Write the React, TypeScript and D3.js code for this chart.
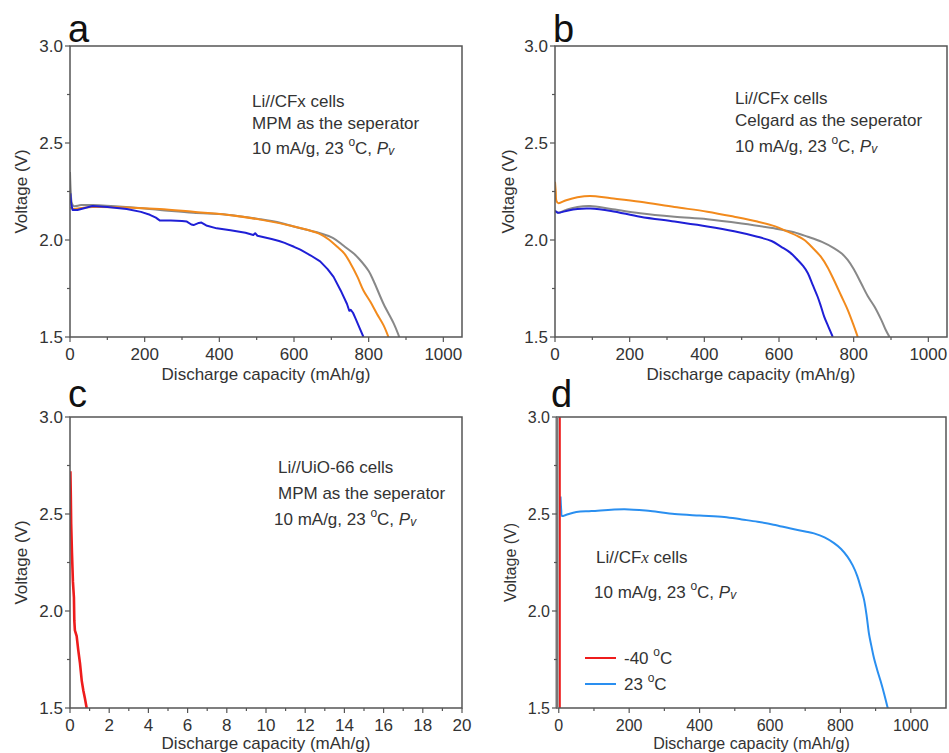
import React from "react";
import * as d3 from "d3";

type Pt = [number, number];

// ---- Data (capacity mAh/g, voltage V) ----
const aGray: Pt[] = [[0,2.35],[2,2.25],[5,2.19],[10,2.175],[30,2.18],[62,2.18],[150,2.17],[241,2.155],[330,2.14],[420,2.13],[509,2.107],[560,2.09],[599,2.07],[640,2.05],[670,2.035],[705,2.01],[733,1.97],[760,1.93],[777,1.897],[800,1.84],[813,1.79],[840,1.67],[867,1.57],[882,1.5]];
const aOrange: Pt[] = [[2,2.17],[8,2.16],[30,2.165],[60,2.17],[150,2.168],[240,2.16],[330,2.145],[420,2.13],[510,2.105],[600,2.07],[640,2.05],[670,2.03],[695,2.0],[715,1.966],[735,1.93],[751,1.88],[770,1.81],[786,1.74],[805,1.68],[822,1.62],[840,1.56],[853,1.5]];
const aBlue: Pt[] = [[1,2.24],[3,2.19],[7,2.155],[20,2.155],[40,2.165],[60,2.175],[100,2.17],[152,2.16],[190,2.145],[214,2.13],[230,2.115],[241,2.1],[270,2.1],[300,2.098],[313,2.095],[325,2.08],[331,2.077],[345,2.088],[352,2.09],[365,2.075],[393,2.06],[430,2.05],[470,2.037],[491,2.026],[496,2.035],[502,2.022],[540,2.005],[560,1.995],[575,1.985],[581,1.98],[600,1.965],[617,1.95],[645,1.92],[670,1.89],[690,1.85],[706,1.81],[725,1.74],[742,1.67],[748,1.635],[752,1.64],[758,1.625],[765,1.595],[775,1.55],[786,1.5]];

const bOrange: Pt[] = [[0,2.3],[2,2.25],[4,2.2],[9,2.19],[30,2.205],[60,2.22],[94,2.227],[150,2.215],[228,2.197],[320,2.17],[408,2.146],[480,2.12],[542,2.095],[590,2.07],[623,2.043],[650,2.02],[668,2.0],[690,1.96],[712,1.914],[730,1.86],[748,1.79],[766,1.715],[784,1.64],[798,1.57],[811,1.5]];
const bGray: Pt[] = [[0,2.15],[4,2.145],[8,2.14],[30,2.155],[60,2.17],[94,2.175],[150,2.16],[228,2.138],[320,2.12],[408,2.107],[500,2.085],[587,2.06],[640,2.04],[677,2.017],[715,1.99],[748,1.957],[768,1.93],[784,1.897],[800,1.85],[820,1.777],[838,1.71],[856,1.656],[874,1.588],[885,1.54],[896,1.5]];
const bBlue: Pt[] = [[0,2.15],[4,2.145],[8,2.14],[30,2.15],[60,2.16],[94,2.162],[150,2.15],[228,2.12],[320,2.095],[408,2.07],[480,2.045],[542,2.017],[580,1.995],[605,1.966],[630,1.935],[650,1.897],[665,1.865],[677,1.83],[690,1.77],[703,1.71],[712,1.66],[721,1.605],[733,1.55],[744,1.5]];

const cRed: Pt[] = [[0.02,2.72],[0.04,2.6],[0.06,2.45],[0.1,2.3],[0.15,2.15],[0.2,2.07],[0.22,1.95],[0.25,1.9],[0.34,1.87],[0.42,1.8],[0.51,1.73],[0.6,1.64],[0.68,1.59],[0.76,1.55],[0.85,1.5]];

const dRed: Pt[] = [[3,3.05],[3,1.45]];
const dBlue: Pt[] = [[5,2.59],[7,2.52],[9,2.49],[20,2.495],[50,2.51],[93,2.515],[187,2.525],[260,2.515],[329,2.5],[400,2.492],[470,2.485],[520,2.472],[565,2.46],[610,2.445],[659,2.425],[700,2.41],[725,2.4],[755,2.38],[782,2.35],[802,2.32],[820,2.28],[835,2.235],[848,2.18],[858,2.12],[867,2.06],[875,1.97],[881,1.885],[888,1.82],[895,1.76],[904,1.7],[914,1.64],[924,1.575],[933,1.51],[936,1.49]];

const capTicks = [0, 200, 400, 600, 800, 1000];
const capMinor = [100, 300, 500, 700, 900];
const smallTicks = [0, 2, 4, 6, 8, 10, 12, 14, 16, 18, 20];
const smallMinor = [1, 3, 5, 7, 9, 11, 13, 15, 17, 19];
const voltTicks = [1.5, 2.0, 2.5, 3.0];
const voltMinor = [1.75, 2.25, 2.75];

const FONT = "'Liberation Sans', Arial, sans-serif";
const TXT = "#333";
const AXIS = "#555";
const AFS = 17;

const BLUE = "#1f1fd6";
const ORANGE = "#f28a1c";
const GRAY = "#888888";
const RED = "#ee1c1c";
const LBLUE = "#2a8ff0";

type Series = { data: Pt[]; color: string; width?: number; smooth?: boolean };

type PanelProps = {
  id: string;
  letter: string;
  left: number; top: number; right: number; bottom: number;
  xDomain: [number, number];
  xTicks: number[]; xMinor: number[];
  series: Series[];
  yTitleX: number;
  xTitleDy: number;
  fs: number;
  thickLeft?: boolean;
  letterX: number; letterY: number;
  children?: React.ReactNode;
};

function Panel(p: PanelProps) {
  const x = d3.scaleLinear().domain(p.xDomain).range([p.left, p.right]);
  const y = d3.scaleLinear().domain([1.5, 3.0]).range([p.bottom, p.top]);
  const smoothLine = d3.line<Pt>().x(d => x(d[0])).y(d => y(d[1])).curve(d3.curveCatmullRom.alpha(0.5));
  const rawLine = d3.line<Pt>().x(d => x(d[0])).y(d => y(d[1]));
  const cx = (p.left + p.right) / 2;
  const cy = (p.top + p.bottom) / 2;
  return (
    <g>
      <defs>
        <clipPath id={"clip" + p.id}>
          <rect x={p.left} y={p.top} width={p.right - p.left} height={p.bottom - p.top} />
        </clipPath>
      </defs>
      <text x={p.letterX} y={p.letterY} fontSize={38} fontFamily={FONT} fill="#111">{p.letter}</text>
      <g clipPath={`url(#clip${p.id})`}>
        {p.series.map((s, i) => (
          <path key={i} d={(s.smooth === false ? rawLine : smoothLine)(s.data) || ""} fill="none" stroke={s.color} strokeWidth={s.width ?? 2} strokeLinejoin="round" />
        ))}
      </g>
      <rect x={p.left} y={p.top} width={p.right - p.left} height={p.bottom - p.top} fill="none" stroke={AXIS} strokeWidth={1.5} />
      {p.thickLeft && <line x1={p.left} x2={p.left} y1={p.top} y2={p.bottom} stroke="#777" strokeWidth={3} />}
      {p.xTicks.map(t => (
        <g key={"xt" + t}>
          <line x1={x(t)} x2={x(t)} y1={p.bottom} y2={p.bottom + 5} stroke={AXIS} strokeWidth={1.2} />
          <text x={x(t)} y={p.bottom + 23} textAnchor="middle" fontSize={p.fs} fontFamily={FONT} fill={TXT}>{t}</text>
        </g>
      ))}
      {p.xMinor.map(t => (
        <line key={"xm" + t} x1={x(t)} x2={x(t)} y1={p.bottom} y2={p.bottom + 3} stroke={AXIS} strokeWidth={1.2} />
      ))}
      {voltTicks.map(t => (
        <g key={"yt" + t}>
          <line x1={p.left - 5} x2={p.left} y1={y(t)} y2={y(t)} stroke={AXIS} strokeWidth={1.2} />
          <text x={p.left - 7} y={y(t)} dy="0.36em" textAnchor="end" fontSize={p.fs} fontFamily={FONT} fill={TXT}>{t.toFixed(1)}</text>
        </g>
      ))}
      {voltMinor.map(t => (
        <line key={"ym" + t} x1={p.left - 3} x2={p.left} y1={y(t)} y2={y(t)} stroke={AXIS} strokeWidth={1.2} />
      ))}
      <text x={cx} y={p.bottom + p.xTitleDy} textAnchor="middle" fontSize={p.fs} fontFamily={FONT} fill={TXT}>Discharge capacity (mAh/g)</text>
      <text transform={`translate(${p.yTitleX},${cy}) rotate(-90)`} textAnchor="middle" dy="0.35em" fontSize={p.fs} fontFamily={FONT} fill={TXT}>Voltage (V)</text>
      {p.children}
    </g>
  );
}

function Cond({ x, y }: { x: number; y: number }) {
  return (
    <text x={x} y={y} fontSize={AFS} fontFamily={FONT} fill={TXT}>
      10 mA/g, 23 <tspan fontSize={12} dy={-8}>o</tspan><tspan dy={8}>C, </tspan>
      <tspan fontStyle="italic">P</tspan><tspan fontStyle="italic" fontSize={12} dy={1}>v</tspan>
    </text>
  );
}

function Deg({ x, y, label }: { x: number; y: number; label: string }) {
  return (
    <text x={x} y={y} fontSize={AFS} fontFamily={FONT} fill={TXT}>
      {label} <tspan fontSize={12} dy={-8}>o</tspan><tspan dy={8}>C</tspan>
    </text>
  );
}

export default function App() {
  return (
    <svg width={949} height={753} style={{ position: "absolute", left: 0, top: 0, background: "#fff" }}>
      <rect width={949} height={753} fill="#fff" />
      <Panel id="a" letter="a" left={70} top={46} right={462} bottom={337} xDomain={[0, 1050]} fs={17}
        xTicks={capTicks} xMinor={capMinor} yTitleX={21} xTitleDy={43} letterX={68} letterY={42}
        series={[{ data: aGray, color: GRAY }, { data: aOrange, color: ORANGE }, { data: aBlue, color: BLUE, smooth: false }]}>
        <text x={252} y={107} fontSize={AFS} fontFamily={FONT} fill={TXT}>Li//CFx cells</text>
        <text x={252} y={129} fontSize={AFS} fontFamily={FONT} fill={TXT}>MPM as the seperator</text>
        <Cond x={252} y={154} />
      </Panel>
      <Panel id="b" letter="b" left={555} top={46} right={947} bottom={337} xDomain={[0, 1050]} fs={17}
        xTicks={capTicks} xMinor={capMinor} yTitleX={508} xTitleDy={43} letterX={553} letterY={42}
        series={[{ data: bGray, color: GRAY }, { data: bOrange, color: ORANGE }, { data: bBlue, color: BLUE }]}>
        <text x={735} y={104} fontSize={AFS} fontFamily={FONT} fill={TXT}>Li//CFx cells</text>
        <text x={735} y={126} fontSize={AFS} fontFamily={FONT} fill={TXT}>Celgard as the seperator</text>
        <Cond x={735} y={152} />
      </Panel>
      <Panel id="c" letter="c" left={70} top={417} right={462} bottom={708} xDomain={[0, 20]} fs={17}
        xTicks={smallTicks} xMinor={smallMinor} yTitleX={21} xTitleDy={41} letterX={68} letterY={407}
        series={[{ data: cRed, color: RED, width: 2.6, smooth: false }]}>
        <text x={278} y={473} fontSize={AFS} fontFamily={FONT} fill={TXT}>Li//UiO-66 cells</text>
        <text x={278} y={499} fontSize={AFS} fontFamily={FONT} fill={TXT}>MPM as the seperator</text>
        <Cond x={274} y={525} />
      </Panel>
      <Panel id="d" letter="d" left={557} top={417} right={946} bottom={708} xDomain={[-5, 1100]} fs={16}
        xTicks={capTicks} xMinor={capMinor} yTitleX={510} xTitleDy={41} letterX={551} letterY={407} thickLeft
        series={[{ data: dBlue, color: LBLUE }, { data: dRed, color: RED, smooth: false }]}>
        <text x={596} y={563} fontSize={AFS} fontFamily={FONT} fill={TXT}>Li//CF<tspan fontFamily="'Liberation Serif', serif" fontStyle="italic">x</tspan> cells</text>
        <Cond x={594} y={598} />
        <line x1={585} x2={616} y1={658} y2={658} stroke={RED} strokeWidth={2} />
        <Deg x={624} y={664} label="-40" />
        <line x1={585} x2={616} y1={684} y2={684} stroke={LBLUE} strokeWidth={2} />
        <Deg x={624} y={690} label="23" />
      </Panel>
    </svg>
  );
}
